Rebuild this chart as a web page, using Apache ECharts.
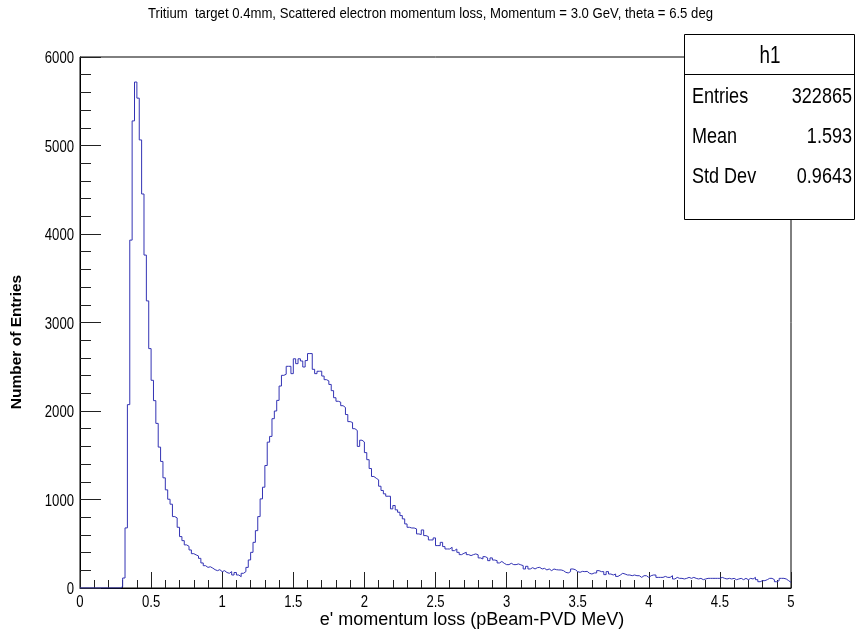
<!DOCTYPE html>
<html><head><meta charset="utf-8">
<script src="https://cdn.jsdelivr.net/npm/echarts@6/dist/echarts.min.js"></script>
<style>html,body{margin:0;padding:0;background:#fff}#c{width:856px;height:637px}</style>
</head><body><div id="c"></div>
<script>
const titleText = "Tritium  target 0.4mm, Scattered electron momentum loss, Momentum = 3.0 GeV, theta = 6.5 deg";
const xTitle = "e' momentum loss (pBeam-PVD MeV)";
const yTitle = "Number of Entries";
const binLow = 0, binHigh = 5, nBins = 300;
const xTickValues = [0, 0.5, 1, 1.5, 2, 2.5, 3, 3.5, 4, 4.5, 5];
const xTickLabels = ["0", "0.5", "1", "1.5", "2", "2.5", "3", "3.5", "4", "4.5", "5"];
const yTickValues = [0, 1000, 2000, 3000, 4000, 5000, 6000];
const yTickLabels = ["0", "1000", "2000", "3000", "4000", "5000", "6000"];
const counts = [
  0,0,0,0,0,0,0,0,0,0,
  0,0,0,0,0,0,0,15,113,679,
  2072,3931,5278,5717,5535,5063,4452,3762,3244,2705,
  2347,2117,1860,1592,1430,1245,1109,1003,947,807,
  792,686,581,535,487,471,430,388,374,362,
  335,283,252,233,240,225,207,196,207,185,
  196,175,166,185,147,175,147,128,166,185,
  233,317,403,516,648,807,1007,1139,1384,1648,
  1713,1913,2000,2120,2282,2403,2415,2505,2505,2422,
  2590,2535,2590,2565,2497,2570,2649,2649,2471,2422,
  2449,2450,2395,2354,2340,2300,2230,2150,2110,2100,
  2060,2040,1960,1880,1870,1800,1780,1600,1670,1650,
  1530,1450,1350,1260,1240,1222,1150,1102,1064,1037,
  1037,894,932,883,856,818,781,724,686,678,
  678,668,611,604,656,592,581,543,543,566,
  479,479,516,468,441,441,460,422,441,403,
  377,392,403,377,366,377,385,375,340,328,
  354,340,309,340,316,309,283,300,279,264,
  264,279,264,264,272,262,253,215,245,215,
  230,215,230,233,215,222,204,215,196,215,
  207,204,204,196,177,170,185,215,207,185,
  177,188,185,188,166,158,170,170,196,185,
  185,151,185,158,147,158,131,147,166,158,
  147,147,139,147,139,139,120,139,139,120,
  139,147,147,120,120,120,131,120,120,139,
  102,120,109,109,102,109,120,109,120,109,
  102,109,94,102,109,109,109,109,109,109,
  120,109,102,109,102,109,94,102,109,94,
  109,94,109,102,120,94,71,83,83,94,
  109,109,94,71,83,109,109,102,83,64
];
const statsName = "h1";
const statsLabels = ["Entries", "Mean", "Std Dev"];
const statsValues = ["322865", "1.593", "0.9643"];

const FONT = "'Liberation Sans', Arial, Helvetica, sans-serif";
const SQ = 0.82; // horizontal squeeze to mimic the narrow Helvetica of the original

function measure(text, font) {
  const ctx = document.createElement('canvas').getContext('2d');
  ctx.font = font;
  return ctx.measureText(text).width;
}

const binW = (binHigh - binLow) / nBins;
const points = counts.map((c, i) => [binLow + i * binW, c]);
points.push([binHigh, counts[counts.length - 1]]);

const chart = echarts.init(document.getElementById('c'), null, {renderer: 'canvas'});

chart.setOption({
  animation: false,
  backgroundColor: '#fff',
  grid: {left: 80, top: 57, right: 65, bottom: 49, show: true, borderColor: '#000', borderWidth: 1, backgroundColor: 'transparent'},
  xAxis: {
    type: 'value', min: binLow, max: binHigh, interval: 0.5,
    axisLine: {show: true, lineStyle: {color: '#000', width: 1}},
    axisTick: {show: true, inside: true, length: 16, lineStyle: {color: '#222'}},
    minorTick: {show: true, splitNumber: 5, length: 8, lineStyle: {color: '#222'}},
    splitLine: {show: false},
    axisLabel: {show: false}
  },
  yAxis: {
    type: 'value', min: 0, max: 6000, interval: 1000,
    axisLine: {show: true, lineStyle: {color: '#000', width: 1}},
    axisTick: {show: true, inside: true, length: 21, lineStyle: {color: '#222'}},
    minorTick: {show: true, splitNumber: 5, length: 11, lineStyle: {color: '#222'}},
    splitLine: {show: false},
    axisLabel: {show: false}
  },
  series: [{
    type: 'line', step: 'end', data: points, symbol: 'none',
    lineStyle: {color: '#3333b4', width: 1}, clip: true, z: 5
  }]
});

const els = [];
function squeezedText(x, y, text, size, align, opts) {
  opts = opts || {};
  const font = (opts.weight ? opts.weight + ' ' : '') + size + 'px ' + FONT;
  els.push({
    type: 'text', x: x, y: y, scaleX: opts.scaleX != null ? opts.scaleX : SQ, scaleY: 1,
    rotation: opts.rotation || 0, z: opts.z || 50,
    style: {text: text, font: font, fill: '#000', textAlign: align, textVerticalAlign: 'middle'}
  });
}

// Title, squeezed to the original's width
const titleFont = '15px ' + FONT;
const titleScale = 565 / measure(titleText, titleFont);
squeezedText(430.5, 14, titleText, 15, 'center', {scaleX: titleScale});

// Tick labels, placed through the axes' own scales
xTickValues.forEach((v, i) => {
  const px = chart.convertToPixel({xAxisIndex: 0}, v);
  squeezedText(px, 603, xTickLabels[i], 16, 'center');
});
yTickValues.forEach((v, i) => {
  const py = chart.convertToPixel({yAxisIndex: 0}, v);
  squeezedText(74, py + 2, yTickLabels[i], 16, 'right');
});

// Axis titles
els.push({type: 'text', x: 17, y: 342, rotation: Math.PI / 2, z: 50,
  style: {text: yTitle, font: 'bold 15.5px ' + FONT, fill: '#000', textAlign: 'center', textVerticalAlign: 'middle'}});
els.push({type: 'text', x: 472, y: 620, z: 50,
  style: {text: xTitle, font: '18px ' + FONT, fill: '#000', textAlign: 'center', textVerticalAlign: 'middle'}});

// Statistics box
els.push({type: 'rect', shape: {x: 684.5, y: 34.5, width: 170, height: 185}, style: {fill: '#fff', stroke: '#000', lineWidth: 1}, z: 100});
els.push({type: 'line', shape: {x1: 684.5, y1: 74.5, x2: 854.5, y2: 74.5}, style: {stroke: '#000', lineWidth: 1}, z: 101});
squeezedText(770, 57, statsName, 23, 'center', {z: 102});
statsLabels.forEach((lab, i) => {
  const y = 97 + i * 40;
  squeezedText(692, y, lab, 22, 'left', {z: 102});
  squeezedText(852, y, statsValues[i], 22, 'right', {z: 102});
});

chart.setOption({graphic: els});
</script>
</body></html>
